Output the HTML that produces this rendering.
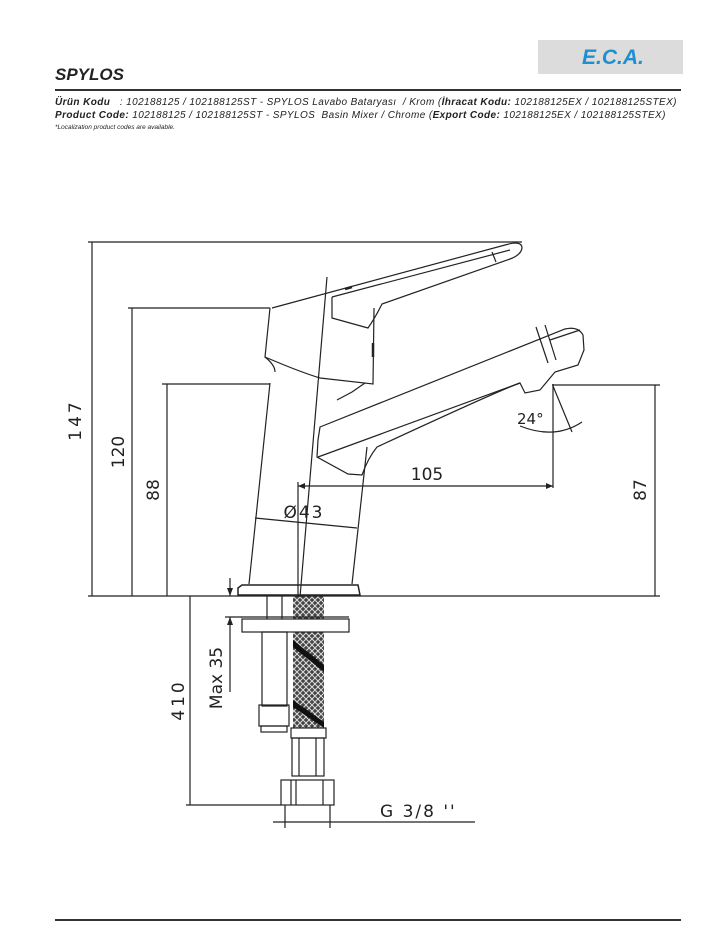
<!DOCTYPE html>
<html><head><meta charset="utf-8"><style>
html,body{margin:0;padding:0;background:#fff;}
body{width:713px;height:928px;position:relative;overflow:hidden;font-family:"Liberation Sans",sans-serif;}
.t{position:absolute;font-style:italic;white-space:nowrap;color:#222;}
</style></head><body>
<div style="position:absolute;left:538px;top:40px;width:145px;height:34px;background:#dcdcdc;"></div>
<div class="t" style="left:582px;top:46px;font-size:21px;font-weight:bold;color:#1e8fd2;letter-spacing:0px;">E.C.A.</div>
<div class="t" style="left:55px;top:65px;font-size:17px;font-weight:bold;color:#222;">SPYLOS</div>
<div style="position:absolute;left:55px;top:89px;width:626px;height:2px;background:#333;"></div>
<div class="t" style="left:55px;top:97px;font-size:10px;letter-spacing:0.4px;"><b>Ürün Kodu</b> &nbsp;&nbsp;: 102188125 / 102188125ST - SPYLOS Lavabo Bataryası &nbsp;/ Krom (<b>İhracat Kodu:</b> 102188125EX / 102188125STEX)</div>
<div class="t" style="left:55px;top:110px;font-size:10px;letter-spacing:0.4px;"><b>Product Code:</b> 102188125 / 102188125ST - SPYLOS &nbsp;Basin Mixer / Chrome (<b>Export Code:</b> 102188125EX / 102188125STEX)</div>
<div class="t" style="left:55px;top:124px;font-size:6.5px;">*Localization product codes are available.</div>
<div style="position:absolute;left:55px;top:919px;width:626px;height:2px;background:#333;"></div>

<svg width="713" height="928" style="position:absolute;left:0;top:0" xmlns="http://www.w3.org/2000/svg">
<defs>
<pattern id="br" width="6" height="6" patternUnits="userSpaceOnUse">
<rect width="6" height="6" fill="#444"/>
<path d="M0 3 L3 0 M3 6 L6 3 M0 3 L3 6 M3 0 L6 3" stroke="#ddd" stroke-width="1"/>
</pattern>
</defs>
<rect x="293" y="596" width="31" height="132" fill="url(#br)"/>
<path d="M293 640 L324 665 L324 672 L293 647Z M293 700 L324 722 L324 728 L293 707Z" fill="#111"/>
<g stroke="#222" stroke-width="1.2" fill="none">
<line x1="88" y1="242" x2="522" y2="242"/>
<line x1="92" y1="242" x2="92" y2="596"/>
<line x1="128" y1="308" x2="270" y2="308"/>
<line x1="132" y1="308" x2="132" y2="596"/>
<line x1="162" y1="384" x2="270" y2="384"/>
<line x1="167" y1="384" x2="167" y2="596"/>
<line x1="552" y1="385" x2="660" y2="385"/>
<line x1="655" y1="385" x2="655" y2="596"/>
<line x1="88" y1="596" x2="660" y2="596"/>
<line x1="298" y1="486" x2="553" y2="486"/>
<line x1="553" y1="384" x2="553" y2="488"/>
<line x1="298" y1="482" x2="298" y2="597"/>
<line x1="255" y1="518" x2="357" y2="528"/>
<line x1="553" y1="386" x2="572" y2="432"/>
<path d="M520 426 Q555 440 582 422"/>
<line x1="327" y1="277" x2="300" y2="597"/>
<line x1="270" y1="383" x2="249" y2="584"/>
<line x1="367" y1="447" x2="352" y2="584"/>
<path d="M238 595 L238 588 L242 585 L358 585 L360 595 Z" stroke-width="1.5"/>
<path d="M270 308 L265 357 Q300 372 320 378 L373 384 L374 308"/>
<path d="M265 357 Q275 365 275 372"/>
<path d="M272 308 L505 245 Q522 240 522 248 Q521 255 510 259 L382 304 Q375 318 368 328 L332 318 L332 297"/>
<path d="M332 297 L510 250"/>
<line x1="492" y1="252" x2="496" y2="262"/>
<path d="M345 289 L352 287" stroke-width="2.5"/>
<path d="M373 343 L373 357" stroke-width="2.5"/>
<path d="M320 427 L565 329 Q578 326 583 335 L584 350 L578 365 L555 372 L540 390 L525 393 L520 383 Q500 390 377 447 Q368 458 362 475 L348 474 L317 457 L318 440 Z"/>
<path d="M318 457 L520 383"/>
<path d="M337 400 L352 392 L365 383"/>
<line x1="536" y1="327" x2="548" y2="363"/>
<line x1="545" y1="325" x2="556" y2="360"/>
<line x1="550" y1="340" x2="580" y2="330"/>
<line x1="267" y1="596" x2="267" y2="619"/>
<line x1="282" y1="596" x2="282" y2="619"/>
<rect x="242" y="619" width="107" height="13" fill="#fff"/>
<line x1="241" y1="617" x2="349" y2="617"/>
<rect x="262" y="632" width="25" height="74"/>
<rect x="259" y="705" width="30" height="21"/>
<rect x="261" y="726" width="26" height="6"/>
<rect x="291" y="728" width="35" height="10"/>
<rect x="292" y="738" width="32" height="38"/>
<line x1="299" y1="738" x2="299" y2="776"/><line x1="316" y1="738" x2="316" y2="776"/>
<rect x="281" y="780" width="53" height="25"/>
<line x1="291" y1="780" x2="291" y2="805"/><line x1="296" y1="780" x2="296" y2="805"/><line x1="323" y1="780" x2="323" y2="805"/>
<line x1="230" y1="578" x2="230" y2="596"/>
<line x1="230" y1="617" x2="230" y2="692"/>
<line x1="225" y1="617" x2="242" y2="617"/>
<line x1="190" y1="596" x2="190" y2="805"/>
<line x1="186" y1="805" x2="281" y2="805"/>
<line x1="273" y1="822" x2="475" y2="822"/>
<line x1="285" y1="805" x2="285" y2="828"/>
<line x1="330" y1="805" x2="330" y2="828"/>
</g>
<g fill="#222">
<path d="M230 596 l-3 -8 h6z M230 617 l-3 8 h6z M553 486 l-7 -3 v6z M298 486 l7 -3 v6z"/>
</g>
<g font-family="'DejaVu Sans','Liberation Sans',sans-serif" font-size="17" fill="#222">
<text transform="translate(81,420) rotate(-90)" text-anchor="middle" letter-spacing="3">147</text>
<text transform="translate(124,452) rotate(-90)" text-anchor="middle">120</text>
<text transform="translate(159,490) rotate(-90)" text-anchor="middle">88</text>
<text transform="translate(646,490) rotate(-90)" text-anchor="middle">87</text>
<text x="427" y="480" text-anchor="middle">105</text>
<text x="304" y="518" text-anchor="middle" letter-spacing="2">Ø43</text>
<text x="517" y="424" font-size="15">24°</text>
<text transform="translate(222,678) rotate(-90)" text-anchor="middle">Max 35</text>
<text transform="translate(184,700) rotate(-90)" text-anchor="middle" letter-spacing="3">410</text>
<text x="380" y="817" letter-spacing="2">G 3/8 ''</text>
</g>
</svg>
</body></html>
